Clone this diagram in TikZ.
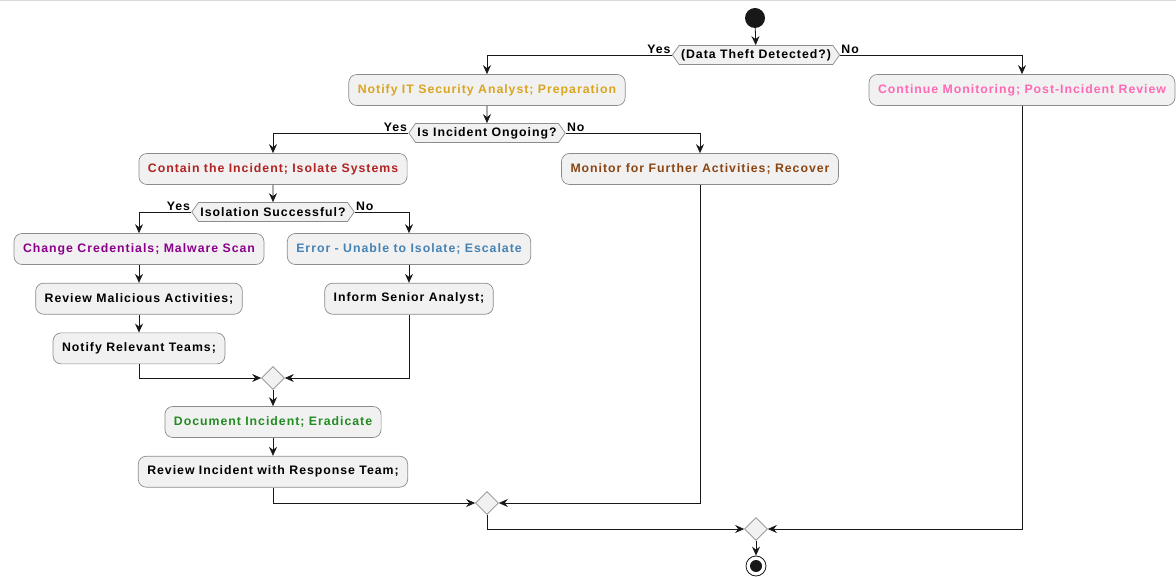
\documentclass[tikz,border=0pt]{standalone}
\usepackage{fontspec}
\setmainfont{Liberation Sans}
\usepackage{tikz}
\usetikzlibrary{shapes.geometric, shapes.symbols, arrows.meta, positioning}

\definecolor{goldtxt}{HTML}{DAA520}
\definecolor{pinktxt}{HTML}{FF69B4}
\definecolor{redtxt}{HTML}{B22222}
\definecolor{browntxt}{HTML}{8B4513}
\definecolor{purpletxt}{HTML}{8B008B}
\definecolor{bluetxt}{HTML}{4682B4}
\definecolor{greentxt}{HTML}{228B22}
\definecolor{boxfill}{HTML}{F1F1F1}
\definecolor{linecol}{HTML}{181818}

\begin{document}
\begin{tikzpicture}[x=1pt, y=-1pt, font=\fontsize{12.3}{14}\selectfont\bfseries\addfontfeatures{LetterSpace=8}]
\tikzstyle{block} = [rectangle, rounded corners=8pt, minimum height=31pt, inner xsep=9pt, text centered, draw=black!45, line width=0.7pt, fill=boxfill]
\tikzstyle{decision} = [signal, signal to=east and west, signal pointer angle=110, minimum height=19pt, inner xsep=2pt, inner ysep=1pt, draw=black!45, line width=0.7pt, fill=boxfill]
\tikzstyle{merge} = [diamond, minimum size=23pt, inner sep=0pt, draw=black!45, line width=0.7pt, fill=boxfill]
\tikzstyle{line} = [draw, color=linecol, line width=0.8pt, -{Stealth[length=9pt, width=8pt, inset=3pt]}]
\tikzstyle{lbl} = [inner sep=1pt, text=black]

\useasboundingbox (0,0) rectangle (1176,577);
\draw [black!15, line width=1pt] (0,0.5) -- (1176,0.5);

\node (start) [circle, fill=linecol, minimum size=20pt, inner sep=0pt] at (755,18) {};
\node (dec1) [decision] at (756,55) {(Data Theft Detected?)};
\node (notify) [block, text=goldtxt] at (487,90) {Notify IT Security Analyst; Preparation};
\node (continue) [block, text=pinktxt] at (1022,90) {Continue Monitoring; Post-Incident Review};
\node (dec2) [decision] at (487,133) {Is Incident Ongoing?};
\node (contain) [block, text=redtxt] at (273,169) {Contain the Incident; Isolate Systems};
\node (monitor) [block, text=browntxt] at (700,169) {Monitor for Further Activities; Recover};
\node (dec3) [decision] at (273,212) {Isolation Successful?};
\node (change) [block, text=purpletxt] at (139,249) {Change Credentials; Malware Scan};
\node (error) [block, text=bluetxt] at (409,249) {Error - Unable to Isolate; Escalate};
\node (malicious) [block, below=18pt of change] {Review Malicious Activities;};
\node (senior) [block, below=18pt of error] {Inform Senior Analyst;};
\node (teams) [block, below=18pt of malicious] {Notify Relevant Teams;};
\node (merge1) [merge] at (273,378) {};
\node (document) [block, text=greentxt] at (273,422) {Document Incident; Eradicate};
\node (review) [block, below=18pt of document] {Review Incident with Response Team;};
\node (merge2) [merge] at (487,503) {};
\node (merge3) [merge] at (756,529) {};
\node (stop) [circle, draw=linecol, line width=0.8pt, minimum size=20pt, inner sep=0pt] at (756,566) {};
\node (stopdot) [circle, fill=linecol, minimum size=12pt, inner sep=0pt] at (stop) {};

\path [line] (start) -- (dec1);
\path [line] (dec1.west) -| node [lbl, pos=0, anchor=south east] {Yes} (notify);
\path [line] (dec1.east) -| node [lbl, pos=0, anchor=south west] {No} (continue);
\path [line] (notify) -- (dec2);
\path [line] (dec2.west) -| node [lbl, pos=0, anchor=south east] {Yes} (contain);
\path [line] (dec2.east) -| node [lbl, pos=0, anchor=south west] {No} (monitor);
\path [line] (contain) -- (dec3);
\path [line] (dec3.west) -| node [lbl, pos=0, anchor=south east] {Yes} (change);
\path [line] (dec3.east) -| node [lbl, pos=0, anchor=south west] {No} (error);
\path [line] (change) -- (malicious);
\path [line] (malicious) -- (teams);
\path [line] (error) -- (senior);
\path [line] (teams) |- (merge1);
\path [line] (senior) |- (merge1);
\path [line] (merge1) -- (document);
\path [line] (document) -- (review);
\path [line] (review) |- (merge2);
\path [line] (monitor) |- (merge2);
\path [line] (merge2) |- (merge3);
\path [line] (continue) |- (merge3);
\path [line] (merge3) -- (stop);

\end{tikzpicture}
\end{document}
